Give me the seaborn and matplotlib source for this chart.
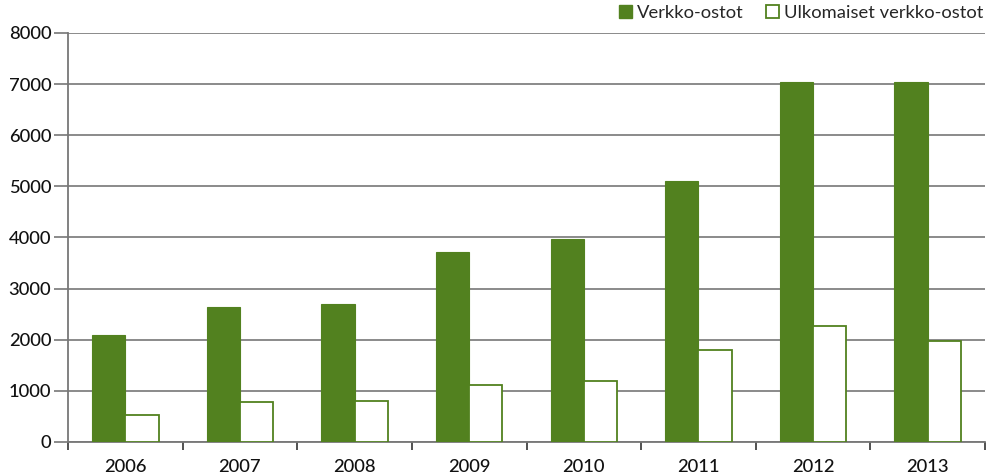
import matplotlib
matplotlib.use("Agg")
import matplotlib.pyplot as plt
import seaborn as sns
import pandas as pd
import numpy as np
from matplotlib.patches import Patch

years = ["2006", "2007", "2008", "2009", "2010", "2011", "2012", "2013"]
verkko = [2100, 2640, 2700, 3710, 3970, 5100, 7050, 7050]
ulkomaiset = [530, 790, 810, 1110, 1190, 1790, 2260, 1975]
series = ["Verkko-ostot", "Ulkomaiset verkko-ostot"]
yticks = [0, 1000, 2000, 3000, 4000, 5000, 6000, 7000, 8000]

green = "#52811F"

df = pd.DataFrame({
    "year": years * 2,
    "value": verkko + ulkomaiset,
    "series": [series[0]] * len(years) + [series[1]] * len(years),
})

sns.set_style("white")
plt.rcParams["font.family"] = ["Lato", "DejaVu Sans"]

fig = plt.figure(figsize=(9.91, 4.75), dpi=100)
ax = fig.add_axes([68 / 991, 1 - 442 / 475, (985 - 68) / 991, (442 - 33) / 475])

sns.barplot(data=df, x="year", y="value", hue="series", hue_order=series,
            palette=[green, "white"], width=0.58, ax=ax, legend=False,
            saturation=1, errorbar=None)

for i, cont in enumerate(ax.containers):
    for p in cont:
        if i == 0:
            p.set_edgecolor(green)
            p.set_linewidth(0.8)
        else:
            p.set_facecolor("white")
            p.set_edgecolor(green)
            p.set_linewidth(1.3)
        p.set_zorder(3)

fs = 13.2
ax.set_ylim(0, 8000)
ax.set_xlim(-0.5, len(years) - 0.5)
ax.set_yticks(yticks)
ax.set_yticklabels([str(v) for v in yticks], fontsize=fs, color="#111111", fontweight="medium")
ax.yaxis.grid(True, color="#777777", linewidth=1.2, zorder=0)
ax.set_axisbelow(True)
ax.set_xlabel("")
ax.set_ylabel("")

for s in ["top", "right"]:
    ax.spines[s].set_visible(False)
ax.spines["left"].set_color("#777777")
ax.spines["left"].set_linewidth(1.3)
ax.spines["bottom"].set_color("#777777")
ax.spines["bottom"].set_linewidth(1.3)

ax.tick_params(axis="y", which="major", left=True, length=10, width=1.2, color="#777777", pad=2)
ax.tick_params(axis="x", which="major", bottom=False, labelsize=fs, labelcolor="#111111", pad=9)
for lbl in ax.get_xticklabels():
    lbl.set_fontweight("medium")
ax.set_xticks(np.arange(-0.5, len(years) + 0.5, 1), minor=True)
ax.tick_params(axis="x", which="minor", bottom=True, length=6, width=1.2, color="#333333", direction="out")

handles = [Patch(facecolor=green, edgecolor=green),
           Patch(facecolor="white", edgecolor=green, linewidth=1.3)]
fig.legend(handles, series, loc="upper right", bbox_to_anchor=(1.009, 1.025), ncol=2,
           frameon=False, fontsize=fs, handlelength=0.75, handleheight=0.75,
           handletextpad=0.25, columnspacing=1.2)

fig.savefig("out.png", dpi=100)
